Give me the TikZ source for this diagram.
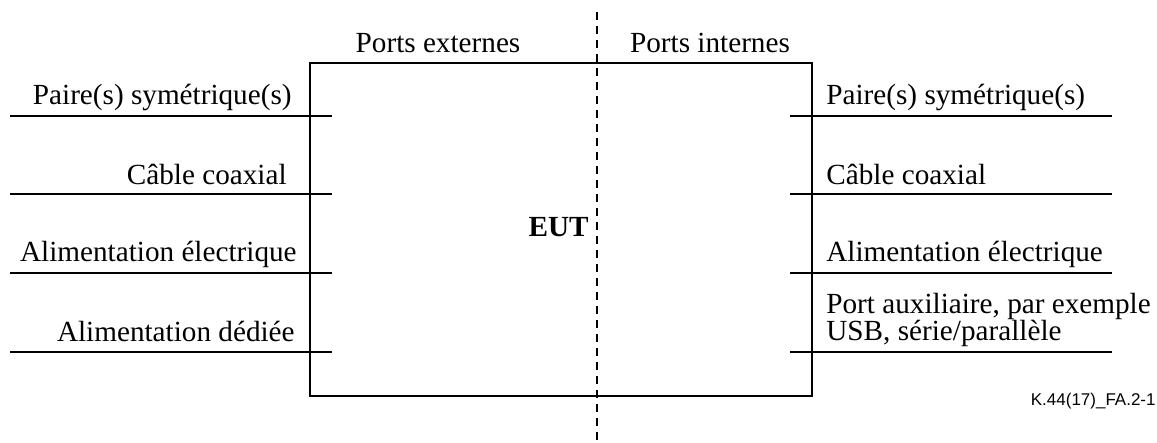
\documentclass[tikz,border=0pt]{standalone}
\usepackage{fontspec}
\setmainfont{Liberation Serif}
\setsansfont{Liberation Sans}
\tikzset{
  port/.style={line width=0.7pt},
  lbl/.style={inner sep=0pt, font=\fontsize{14.6}{13.5}\selectfont},
}
\begin{document}
\begin{tikzpicture}[x=0.5pt,y=-0.5pt]
  \useasboundingbox (0,0) rectangle (1157,443);
  \node[draw, line width=0.7pt, minimum width=251pt, minimum height=166.5pt, inner sep=0pt] (eut) at (561,229.5) {};
  \node[lbl, font=\fontsize{14.6}{13.5}\selectfont\bfseries, anchor=base east] (eutlbl) at (589,237) {EUT};

  % dashed separation
  \coordinate (sep1) at (597,12);
  \coordinate (sep2) at (597,443);
  \draw[line width=0.7pt, dash pattern=on 4pt off 3pt] (sep1)--(sep2);

  \node[lbl, anchor=base] (ext) at (438,53) {Ports externes};
  \node[lbl, anchor=base] (int) at (710,53) {Ports internes};

  % external ports
  \coordinate (l1a) at (10,116);  \coordinate (l1b) at (332,116);
  \coordinate (l2a) at (10,194);  \coordinate (l2b) at (332,194);
  \coordinate (l3a) at (10,273);  \coordinate (l3b) at (332,273);
  \coordinate (l4a) at (10,352);  \coordinate (l4b) at (332,352);
  \node[lbl, anchor=base east] (lt1) at (292,105) {Paire(s) symétrique(s)};
  \node[lbl, anchor=base east] (lt2) at (287,185) {Câble coaxial};
  \node[lbl, anchor=base east] (lt3) at (297,262) {Alimentation électrique};
  \node[lbl, anchor=base east] (lt4) at (295,342) {Alimentation dédiée};

  % internal ports
  \coordinate (r1a) at (790,116);  \coordinate (r1b) at (1112,116);
  \coordinate (r2a) at (790,194);  \coordinate (r2b) at (1112,194);
  \coordinate (r3a) at (790,273);  \coordinate (r3b) at (1112,273);
  \coordinate (r4a) at (790,352);  \coordinate (r4b) at (1112,352);
  \node[lbl, anchor=base west] (rt1) at (826,105) {Paire(s) symétrique(s)};
  \node[lbl, anchor=base west] (rt2) at (826,185) {Câble coaxial};
  \node[lbl, anchor=base west] (rt3) at (826,262) {Alimentation électrique};
  \node[lbl, anchor=north west, align=left] (rt4) at (826,293) {Port auxiliaire, par exemple\\USB, série/parallèle};

  \draw[port] (l1a)--(l1b)
              (l2a)--(l2b)
              (l3a)--(l3b)
              (l4a)--(l4b)
              (r1a)--(r1b)
              (r2a)--(r2b)
              (r3a)--(r3b)
              (r4a)--(r4b);

  \node[inner sep=0pt, font=\sffamily\fontsize{8.5}{10}\selectfont, anchor=base east] (fig) at (1156,405) {K.44(17)\_FA.2-1};
\end{tikzpicture}
\end{document}
